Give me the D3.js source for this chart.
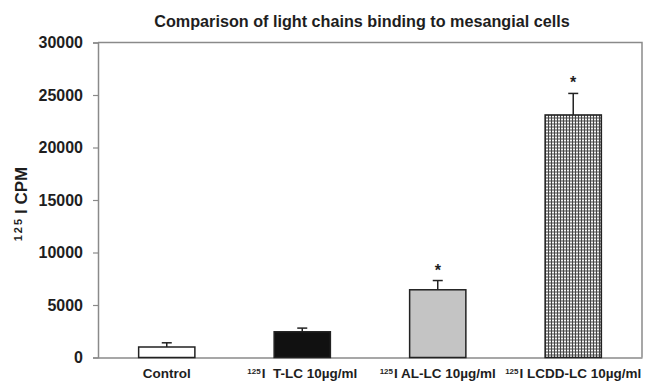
<!DOCTYPE html>
<html>
<head>
<meta charset="utf-8">
<script src="https://cdn.jsdelivr.net/npm/d3@7"></script>
<style>
  body { margin: 0; background: #fff; }
  text { font-family: "Liberation Sans", Arial, sans-serif; fill: #1e1e1e; }
</style>
</head>
<body>
<div id="my_dataviz"></div>
<script>
// data
var categories = ["Control", "T-LC", "AL-LC", "LCDD-LC"];
var labelIso = ["", "125", "125", "125"];
var labelText = ["Control", "I  T-LC 10\u00b5g/ml", "I AL-LC 10\u00b5g/ml", "I LCDD-LC 10\u00b5g/ml"];
var means = [1000, 2450, 6450, 23100];
var errors = [400, 350, 880, 2050];
var starred = [false, false, true, true];
var yTicks = [0, 5000, 10000, 15000, 20000, 25000, 30000];

// set the dimensions and margins of the graph
var margin = {top: 42.5, right: 3, bottom: 26.5, left: 98},
    width = 645 - margin.left - margin.right,
    height = 384 - margin.top - margin.bottom;

var svg = d3.select("#my_dataviz")
  .append("svg")
    .attr("width", width + margin.left + margin.right)
    .attr("height", height + margin.top + margin.bottom)
  .append("g")
    .attr("transform", "translate(" + margin.left + "," + margin.top + ")");

// hatched fill for the last bar
var pat = svg.append("defs").append("pattern")
    .attr("id", "grid")
    .attr("width", 3).attr("height", 3)
    .attr("patternUnits", "userSpaceOnUse");
pat.append("rect").attr("width", 3).attr("height", 3).attr("fill", "#f4f4f4");
pat.append("rect").attr("width", 3).attr("height", 1).attr("fill", "#444");
pat.append("rect").attr("width", 1).attr("height", 3).attr("fill", "#444");

var fills = ["#ffffff", "#111111", "#c4c4c4", "url(#grid)"];

var x = d3.scaleBand()
  .domain(categories)
  .range([0, width])
  .paddingInner(0.585)
  .paddingOuter(0.3);

var y = d3.scaleLinear()
  .domain([0, 30000])
  .range([height, 0]);

// frame (top and right)
svg.append("path")
  .attr("d", "M0,0H" + width + "V" + height)
  .attr("fill", "none")
  .attr("stroke", "#8a8a8a")
  .attr("stroke-width", 1.5);

// Y axis
var yAxis = svg.append("g")
  .call(d3.axisLeft(y).tickValues(yTicks).tickSize(5).tickPadding(10).tickFormat(d3.format("d")));
yAxis.select(".domain").attr("stroke", "#8a8a8a").attr("stroke-width", 1.5);
yAxis.selectAll(".tick line").attr("stroke", "#8a8a8a").attr("stroke-width", 1.2);
yAxis.selectAll(".tick text")
  .style("font-size", "16px")
  .style("font-weight", "bold")
  .style("font-family", "'Liberation Sans', Arial, sans-serif")
  .attr("fill", "#1e1e1e");

// X axis, no ticks
var xAxis = svg.append("g")
  .attr("transform", "translate(0," + height + ")")
  .call(d3.axisBottom(x).tickSize(0).tickFormat(""));
xAxis.select(".domain").attr("stroke", "#8a8a8a").attr("stroke-width", 1.5);

// category labels with the 125 superscript
var lab = svg.append("g").selectAll("text")
  .data(categories)
  .enter()
  .append("text")
    .attr("x", function(d) { return x(d) + x.bandwidth() / 2; })
    .attr("y", height + 20)
    .attr("text-anchor", "middle")
    .style("white-space", "pre")
    .style("font-size", "13.5px")
    .style("font-weight", "bold");
lab.append("tspan")
  .attr("dy", -4)
  .style("font-size", "8px")
  .text(function(d, i) { return labelIso[i]; });
lab.append("tspan")
  .attr("dy", function(d, i) { return labelIso[i] ? 4 : 0; })
  .attr("dx", function(d, i) { return labelIso[i] ? 1 : 0; })
  .text(function(d, i) { return labelText[i]; });

// error bars (upper only)
var err = svg.append("g")
  .selectAll("g")
  .data(categories)
  .enter()
  .append("g")
    .attr("stroke", "#222")
    .attr("stroke-width", 1.5);
err.append("line")
  .attr("x1", function(d) { return x(d) + x.bandwidth() / 2; })
  .attr("x2", function(d) { return x(d) + x.bandwidth() / 2; })
  .attr("y1", function(d, i) { return y(means[i]); })
  .attr("y2", function(d, i) { return y(means[i] + errors[i]); });
err.append("line")
  .attr("x1", function(d) { return x(d) + x.bandwidth() / 2 - 5; })
  .attr("x2", function(d) { return x(d) + x.bandwidth() / 2 + 5; })
  .attr("y1", function(d, i) { return y(means[i] + errors[i]); })
  .attr("y2", function(d, i) { return y(means[i] + errors[i]); });

// bars
svg.append("g")
  .selectAll("rect")
  .data(categories)
  .enter()
  .append("rect")
    .attr("x", function(d) { return x(d); })
    .attr("y", function(d, i) { return y(means[i]); })
    .attr("width", x.bandwidth())
    .attr("height", function(d, i) { return height - y(means[i]); })
    .attr("fill", function(d, i) { return fills[i]; })
    .attr("stroke", "#222")
    .attr("stroke-width", 1.5);

// significance stars
svg.append("g")
  .selectAll("text")
  .data(categories.filter(function(d, i) { return starred[i]; }))
  .enter()
  .append("text")
    .attr("x", function(d) { return x(d) + x.bandwidth() / 2; })
    .attr("y", function(d) {
      var i = categories.indexOf(d);
      return y(means[i] + errors[i]) - 5;
    })
    .attr("text-anchor", "middle")
    .style("font-size", "16px")
    .style("font-weight", "bold")
    .text("*");

// title
svg.append("text")
  .attr("x", 362 - margin.left)
  .attr("y", 27 - margin.top)
  .attr("text-anchor", "middle")
  .style("font-size", "16.2px")
  .style("font-weight", "bold")
  .text("Comparison of light chains binding to mesangial cells");

// Y label
var yl = svg.append("text")
  .attr("transform", "translate(" + (27 - margin.left) + "," + (y(15000) + 4) + ") rotate(-90)")
  .attr("text-anchor", "middle")
  .style("font-size", "17px")
  .style("font-weight", "bold");
yl.append("tspan").attr("dy", -5).style("font-size", "11px").style("letter-spacing", "2px").text("125");
yl.append("tspan").attr("dy", 5).attr("dx", 3).text("I CPM");
</script>
</body>
</html>
